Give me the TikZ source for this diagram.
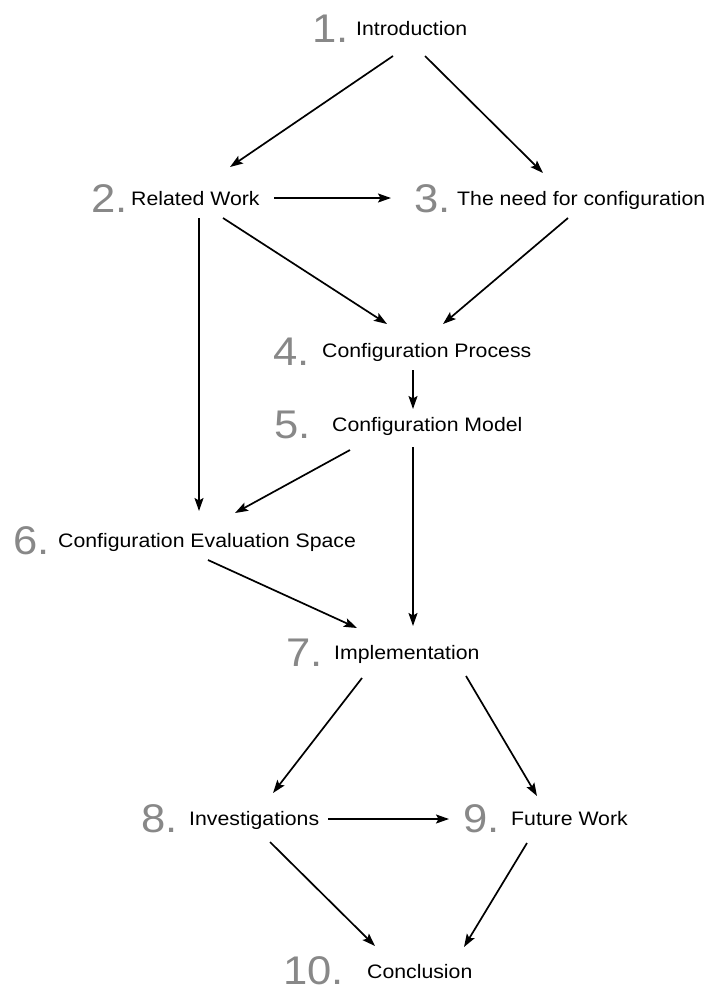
\documentclass[tikz,border=0pt]{standalone}
\usepackage{fontspec}
\setmainfont[FakeStretch=1.09]{Liberation Sans}
\usetikzlibrary{arrows.meta}
\definecolor{numgray}{RGB}{136,136,136}
\tikzset{
  num/.style={anchor=base west, inner sep=0pt, text=numgray, font=\fontsize{40}{40}\selectfont},
  lbl/.style={anchor=base west, inner sep=0pt, font=\fontsize{19.5}{20}\selectfont},
  conn/.style={line width=1.7pt, -{Stealth[length=13pt,width=9pt,inset=2.5pt]}}
}
\begin{document}
\begin{tikzpicture}[x=1pt,y=-1pt]
\useasboundingbox (0,0) rectangle (715,991);
% numbers and labels
\node[num] (n1) at (312,42) {1.};   \node[lbl] (t1) at (356,35) {Introduction};
\node[num] (n2) at (91,212) {2.};   \node[lbl] (t2) at (131,205) {Related Work};
\node[num] (n3) at (414,212) {3.};  \node[lbl] (t3) at (457,205) {The need for configuration};
\node[num] (n4) at (273,365) {4.};  \node[lbl] (t4) at (322,357) {Configuration Process};
\node[num] (n5) at (274,438) {5.};  \node[lbl] (t5) at (332,431) {Configuration Model};
\node[num] (n6) at (13,554) {6.};   \node[lbl] (t6) at (58,547) {Configuration Evaluation Space};
\node[num] (n7) at (286,666) {7.};  \node[lbl] (t7) at (334,659) {Implementation};
\node[num] (n8) at (141,832) {8.};  \node[lbl] (t8) at (189,825) {Investigations};
\node[num] (n9) at (463,832) {9.};  \node[lbl] (t9) at (511,825) {Future Work};
\node[num] (n10) at (283,984) {10.}; \node[lbl] (t10) at (367,978) {Conclusion};
% connector end points
\coordinate (a1s) at (393,56);  \coordinate (a1e) at (230,167);
\coordinate (a2s) at (425,56);  \coordinate (a2e) at (543,173);
\coordinate (a3s) at (274,198); \coordinate (a3e) at (391,198);
\coordinate (a4s) at (223,218); \coordinate (a4e) at (387,324);
\coordinate (a5s) at (568,218); \coordinate (a5e) at (443,324);
\coordinate (a6s) at (199,218); \coordinate (a6e) at (199,511);
\coordinate (a7s) at (413,370); \coordinate (a7e) at (413,409);
\coordinate (a8s) at (350,450); \coordinate (a8e) at (235,513);
\coordinate (a9s) at (413,447); \coordinate (a9e) at (413,626);
\coordinate (a10s) at (208,560); \coordinate (a10e) at (357,628);
\coordinate (a11s) at (362,678); \coordinate (a11e) at (273,793);
\coordinate (a12s) at (466,676); \coordinate (a12e) at (537,796);
\coordinate (a13s) at (328,819); \coordinate (a13e) at (449,819);
\coordinate (a14s) at (270,842); \coordinate (a14e) at (375,946);
\coordinate (a15s) at (527,843); \coordinate (a15e) at (464,947);
\draw[conn] (a1s) -- (a1e);
\draw[conn] (a2s) -- (a2e);
\draw[conn] (a3s) -- (a3e);
\draw[conn] (a4s) -- (a4e);
\draw[conn] (a5s) -- (a5e);
\draw[conn] (a6s) -- (a6e);
\draw[conn] (a7s) -- (a7e);
\draw[conn] (a8s) -- (a8e);
\draw[conn] (a9s) -- (a9e);
\draw[conn] (a10s) -- (a10e);
\draw[conn] (a11s) -- (a11e);
\draw[conn] (a12s) -- (a12e);
\draw[conn] (a13s) -- (a13e);
\draw[conn] (a14s) -- (a14e);
\draw[conn] (a15s) -- (a15e);
\end{tikzpicture}
\end{document}
